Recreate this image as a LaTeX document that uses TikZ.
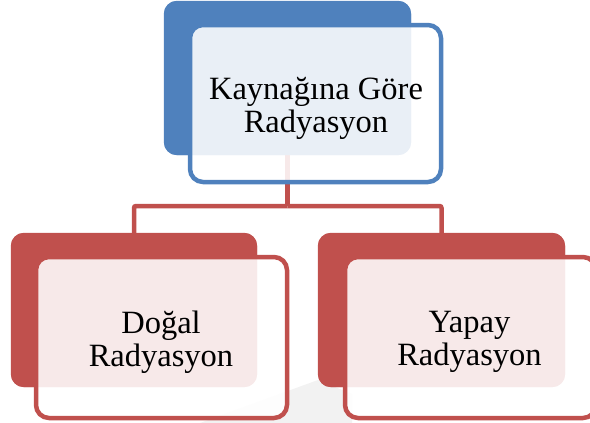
\documentclass[tikz,border=0pt]{standalone}
\usepackage{fontspec}
\setmainfont{Liberation Serif}
\definecolor{accblue}{HTML}{4F81BD}
\definecolor{accred}{HTML}{C0504D}
\definecolor{wmgray}{HTML}{F2F2F2}
\begin{document}
\begin{tikzpicture}[x=1pt,y=-1pt,
  backbox/.style={rectangle, rounded corners=13pt, inner sep=0pt, minimum width=#1},
  framebox/.style={rectangle, rounded corners=13pt, inner sep=0pt, line width=4.5pt,
     minimum width=251pt, minimum height=161pt, fill=white, fill opacity=0.88},
  lbl/.style={align=center, inner sep=0pt, font=\fontsize{32.5}{33}\selectfont, text=black},
  conn/.style={draw=accred, line width=4.5pt, rounded corners=2pt}]
\useasboundingbox (0,0) rectangle (590,423);
\clip (0,0) rectangle (590,423);
% faint watermark
\fill[wmgray] (200,423) -- (318,380) -- (352,394) -- (352,423) -- cycle;
% connectors
\coordinate (hub) at (287.5,206);
\node[backbox=247pt, minimum height=154pt, fill=accblue] (topback) at (287.5,78) {};
\node[backbox=246pt, minimum height=154pt, fill=accred] (leftback) at (134,310) {};
\node[backbox=247pt, minimum height=154pt, fill=accred] (rightback) at (441.5,310) {};
\draw[conn] (topback.south) -- (hub);
\draw[conn] (hub) -| (leftback.north);
\draw[conn] (hub) -| (rightback.north);
% redraw back boxes over connector ends
\fill[accblue, rounded corners=13pt] (topback.south west) rectangle (topback.north east);
\fill[accred, rounded corners=13pt] (leftback.south west) rectangle (leftback.north east);
\fill[accred, rounded corners=13pt] (rightback.south west) rectangle (rightback.north east);
% frames
\node[framebox, draw=accblue, minimum height=157pt] (topframe) at (315.5,103.5) {};
\node[framebox, draw=accred, minimum height=161pt] (leftframe) at (161.5,337.5) {};
\node[framebox, draw=accred, minimum height=161pt] (rightframe) at (470.5,337.5) {};
% labels
\node[lbl] (toplabel) at (316,108.5) {Kaynağına Göre\\Radyasyon};
\node[lbl] (leftlabel) at (161,342) {Doğal\\Radyasyon};
\node[lbl] (rightlabel) at (469.5,342) {Yapay\\Radyasyon};
\end{tikzpicture}
\end{document}
